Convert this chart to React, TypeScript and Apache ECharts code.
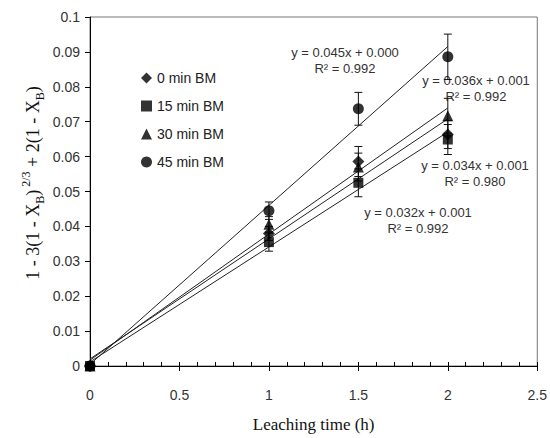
import React, { useEffect, useRef } from "react";
import * as echarts from "echarts";

const xValues = [0, 1, 1.5, 2];
const seriesNames = ["0 min BM", "15 min BM", "30 min BM", "45 min BM"];
const bm0 = [0, 0.038, 0.0586, 0.0663];
const bm15 = [0, 0.0355, 0.0525, 0.0649];
const bm30 = [0, 0.0406, 0.057, 0.0717];
const bm45 = [0, 0.0445, 0.0737, 0.0886];
const err0 = [0.0005, 0.002, 0.0043, 0.004];
const err15 = [0.0005, 0.0026, 0.004, 0.0043];
const err30 = [0.0005, 0.0022, 0.004, 0.005];
const err45 = [0.0005, 0.0025, 0.0047, 0.0065];
const symbols = ["diamond", "rect", "triangle", "circle"];
const symbolSizes = [12, 10, 11, 11];
const equations = [
  "y = 0.034x + 0.001\nR² = 0.980",
  "y = 0.032x + 0.001\nR² = 0.992",
  "y = 0.036x + 0.001\nR² = 0.992",
  "y = 0.045x + 0.000\nR² = 0.992",
];
const xTicks = { min: 0, max: 2.5, interval: 0.5 };
const yTicks = { min: 0, max: 0.1, interval: 0.01 };

const allY = [bm0, bm15, bm30, bm45];
const allErr = [err0, err15, err30, err45];

function fit(xs: number[], ys: number[]) {
  const n = xs.length;
  const mx = xs.reduce((a, b) => a + b, 0) / n;
  const my = ys.reduce((a, b) => a + b, 0) / n;
  let sxy = 0, sxx = 0;
  for (let i = 0; i < n; i++) {
    sxy += (xs[i] - mx) * (ys[i] - my);
    sxx += (xs[i] - mx) * (xs[i] - mx);
  }
  const slope = sxy / sxx;
  return { slope, intercept: my - slope * mx };
}

const labelPos: [number, number][] = [
  [475, 165],
  [418, 212],
  [476, 80],
  [345, 52],
];

export default function App() {
  const ref = useRef<HTMLDivElement>(null);
  useEffect(() => {
    document.body.style.margin = "0";
    if (!ref.current) return;
    const chart = echarts.init(ref.current, null, { renderer: "svg" });
    const sans = "Liberation Sans";
    const serif = "Liberation Serif";
    const series: any[] = [];
    allY.forEach((ys, i) => {
      const f = fit(xValues, ys);
      const x0 = xValues[0];
      const x1 = xValues[xValues.length - 1];
      series.push({
        type: "line",
        name: "fit" + i,
        data: [
          [x0, f.intercept + f.slope * x0],
          [x1, f.intercept + f.slope * x1],
        ],
        showSymbol: false,
        symbol: "none",
        lineStyle: { color: "#222", width: 1 },
        silent: true,
        z: 2,
      });
      series.push({
        type: "custom",
        name: "err" + i,
        data: xValues.map((x, j) => [x, ys[j], allErr[i][j]]),
        renderItem: (params: any, api: any) => {
          const x = api.value(0);
          const y = api.value(1);
          const e = api.value(2);
          const top = api.coord([x, y + e]);
          const bot = api.coord([x, y - e]);
          const w = 4;
          const st = { stroke: "#111", lineWidth: 1 };
          return {
            type: "group",
            children: [
              { type: "line", shape: { x1: top[0], y1: top[1], x2: bot[0], y2: bot[1] }, style: st },
              { type: "line", shape: { x1: top[0] - w, y1: top[1], x2: top[0] + w, y2: top[1] }, style: st },
              { type: "line", shape: { x1: bot[0] - w, y1: bot[1], x2: bot[0] + w, y2: bot[1] }, style: st },
            ],
          };
        },
        silent: true,
        z: 3,
      });
      series.push({
        type: "scatter",
        name: seriesNames[i],
        data: xValues.map((x, j) => [x, ys[j]]),
        symbol: symbols[i],
        symbolSize: symbolSizes[i],
        itemStyle: { color: "#000" },
        z: 4,
      });
    });

    const graphics: any[] = equations.map((t, i) => ({
      type: "text",
      x: labelPos[i][0],
      y: labelPos[i][1] - 8,
      style: {
        text: t,
        font: `13px "${sans}"`,
        fill: "#333",
        align: "center",
        verticalAlign: "top",
        lineHeight: 16,
      },
    }));
    graphics.push({
      type: "text",
      x: 33,
      y: 183,
      rotation: Math.PI / 2,
      style: {
        text: "{n|1 - 3(1 - X}{sub|B}{n|)}{sup| 2/3}{n| + 2(1 - X}{sub|B}{n|)}",
        align: "center",
        verticalAlign: "middle",
        fill: "#111",
        rich: {
          n: { fontFamily: serif, fontSize: 18, fill: "#111", lineHeight: 26, verticalAlign: "middle" },
          sub: { fontFamily: serif, fontSize: 12, fill: "#111", lineHeight: 26, verticalAlign: "bottom" },
          sup: { fontFamily: serif, fontSize: 12, fill: "#111", lineHeight: 26, verticalAlign: "top" },
        },
      },
    });

    chart.setOption({
      animation: false,
      backgroundColor: "#fff",
      grid: { left: 90, top: 17, right: 12, bottom: 71, show: true, borderColor: "#777", borderWidth: 1 },
      legend: {
        data: seriesNames,
        orient: "vertical",
        left: 136,
        top: 66,
        itemGap: 14,
        itemWidth: 11,
        itemHeight: 11,
        textStyle: { fontFamily: sans, fontSize: 14, color: "#222" },
      },
      xAxis: [
        {
          type: "value",
          min: xTicks.min,
          max: xTicks.max,
          interval: xTicks.interval,
          position: "bottom",
          axisLine: { show: true, lineStyle: { color: "#000", width: 1 } },
          axisTick: { show: true, inside: false, length: 5, lineStyle: { color: "#000" } },
          axisLabel: { fontFamily: sans, fontSize: 14, color: "#333", margin: 22 },
          splitLine: { show: false },
          name: "Leaching time (h)",
          nameLocation: "middle",
          nameGap: 50,
          nameTextStyle: { fontFamily: serif, fontSize: 17, color: "#111" },
        },
        {
          type: "value",
          min: xTicks.min,
          max: xTicks.max,
          interval: xTicks.interval,
          position: "bottom",
          axisLine: { show: false },
          axisTick: { show: true, inside: true, length: 4, lineStyle: { color: "#000" } },
          minorTick: { show: true, splitNumber: 5, length: 4, lineStyle: { color: "#000" } },
          axisLabel: { show: false },
          splitLine: { show: false },
        },
      ],
      yAxis: {
        type: "value",
        min: yTicks.min,
        max: yTicks.max,
        interval: yTicks.interval,
        axisLine: { show: true, lineStyle: { color: "#000", width: 1 } },
        axisTick: { show: true, inside: false, length: 5, lineStyle: { color: "#000" } },
        axisLabel: { fontFamily: sans, fontSize: 14, color: "#333", margin: 10 },
        splitLine: { show: false },
      },
      series,
      graphic: graphics,
    });
    return () => chart.dispose();
  }, []);
  return <div ref={ref} style={{ width: 550, height: 438 }} />;
}
